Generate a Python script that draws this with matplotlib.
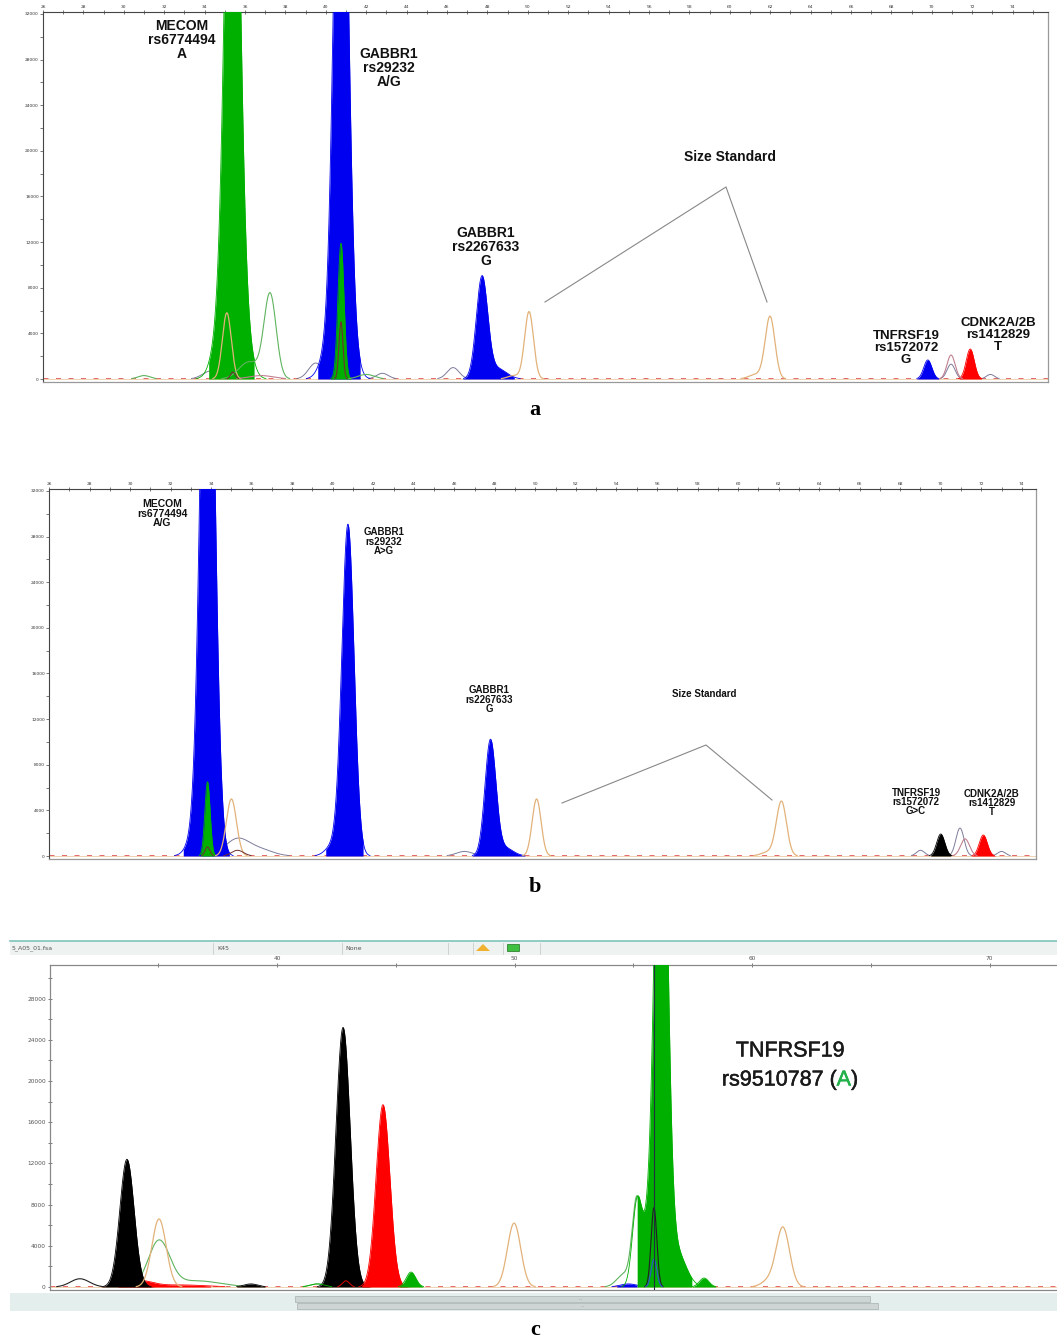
import numpy as np
import matplotlib
matplotlib.use("Agg")
import matplotlib.pyplot as plt
import matplotlib.patheffects as pe
from matplotlib.patches import Rectangle, Polygon
from matplotlib.lines import Line2D

# ---------------- data (size in bp, height in RFU, sigma in bp) ----------------
# Panel a
a_xticks = list(range(26, 76, 2))
a_yticks = [0, 4000, 8000, 12000, 16000, 20000, 24000, 28000, 32000]
a_green_fill = [(35.38, 62000, 0.34), (34.8, 4000, 0.40), (36.0, 3000, 0.35)]
a_blue_fill1 = [(40.75, 62000, 0.33), (40.0, 1800, 0.35), (41.4, 1200, 0.3)]
a_green_fill2 = [(40.75, 11900, 0.15)]
a_blue_fill2 = [(47.73, 8860, 0.28), (48.5, 900, 0.45)]
a_blue_fill3 = [(69.80, 1670, 0.20)]
a_red_fill = [(71.90, 2630, 0.20)]
a_orange_line = [(35.1, 5800, 0.22), (50.06, 5900, 0.22), (61.99, 5450, 0.24), (61.3, 400, 0.35), (49.3, 300, 0.3)]
a_green_line = [(37.24, 7400, 0.30), (36.2, 1500, 0.50), (31.0, 300, 0.3), (42.0, 400, 0.4)]
a_grey_line = [(34.3, 700, 0.40), (39.5, 1400, 0.35), (42.8, 500, 0.3), (46.3, 1000, 0.3), (70.95, 1300, 0.2), (72.9, 400, 0.2)]
a_pink_line = [(70.95, 2100, 0.20), (36.8, 300, 0.6)]
a_dark_line = [(40.75, 5000, 0.10), (35.4, 600, 0.12)]

# Panel b
b_blue_fill1 = [(33.82, 62000, 0.33), (33.1, 1200, 0.35)]
b_green_fill = [(33.82, 6500, 0.13)]
b_blue_fill2 = [(40.75, 29000, 0.30), (40.0, 900, 0.35)]
b_blue_fill3 = [(47.78, 10100, 0.27), (48.5, 700, 0.4)]
b_black_fill = [(70.00, 1930, 0.20)]
b_red_fill = [(72.10, 1840, 0.20)]
b_orange_line = [(35.0, 5000, 0.25), (50.06, 5000, 0.22), (62.14, 4750, 0.25), (61.5, 350, 0.35)]
b_grey_line = [(35.3, 1500, 0.6), (36.5, 500, 0.6), (46.5, 400, 0.4), (69.0, 500, 0.2), (70.95, 2450, 0.20), (73.0, 400, 0.2)]
b_pink_line = [(71.2, 1500, 0.22)]
b_dark_line = [(33.82, 800, 0.12), (35.3, 500, 0.3)]

# Panel c
c_xticks = [40, 50, 60, 70]
c_yticks = [0, 4000, 8000, 12000, 16000, 20000, 24000, 28000]
c_black_fill1 = [(33.68, 12400, 0.30)]
c_red_fill1 = [(34.2, 600, 0.55), (36.0, 200, 1.0)]
c_black_fill0 = [(38.9, 300, 0.3)]
c_black_fill2 = [(42.78, 25200, 0.30)]
c_red_fill2 = [(44.46, 17700, 0.29), (42.9, 600, 0.15)]
c_green_fill1 = [(45.64, 1450, 0.20), (41.7, 300, 0.3)]
c_green_fill2 = [(56.17, 60000, 0.25), (55.16, 8000, 0.20), (55.65, 5000, 0.25), (56.8, 3500, 0.40)]
c_green_fill3 = [(57.98, 870, 0.20)]
c_blue_fill = [(54.8, 300, 0.35)]
c_orange_line = [(35.03, 6600, 0.30), (49.98, 6200, 0.28), (61.30, 5750, 0.28), (60.7, 600, 0.3)]
c_green_line = [(35.03, 4400, 0.45), (36.6, 600, 1.0), (55.16, 8640, 0.20), (54.6, 1200, 0.3), (41.7, 300, 0.3)]
c_dark_line = [(31.7, 800, 0.40), (55.87, 7700, 0.12)]
c_blue_line = [(55.87, 2700, 0.12)]
c_marker_pos = 55.87

# ---------------- helpers ----------------
W, H = 1057, 1344
fig = plt.figure(figsize=(W / 100, H / 100), dpi=100)
fig.patch.set_facecolor("white")

GREEN = "#00b000"
BLUE = "#0000f0"
RED = "#ff0000"
BLACK = "#000000"
ORANGE = "#e2b27a"
LGREEN = "#5fb35f"
GREY = "#7c7c9c"
PINK = "#c08090"
DARK = "#703030"


def ax_at(left, top, right, bottom):
    return fig.add_axes([left / W, 1 - bottom / H, (right - left) / W, (bottom - top) / H])


def fx(x):
    return x / W


def fy(y):
    return 1 - y / H


def trace(x, peaks):
    y = np.zeros_like(x)
    for m, h, s in peaks:
        y += h * np.exp(-0.5 * ((x - m) / s) ** 2)
    return y


def masked(y):
    y = y.copy()
    y[y < 40] = np.nan
    return y


def filled(ax, x, peaks, color, halfwin):
    y = trace(x, peaks)
    mu = peaks[0][0]
    lo, hi = mu - halfwin[0], mu + halfwin[1]
    m = (x >= lo) & (x <= hi)
    ax.fill_between(x[m], 0, y[m], color=color, lw=0, zorder=3)
    ax.plot(x, masked(y), color=color, lw=0.6, zorder=3)


def line(ax, x, peaks, color, lw=0.8, z=4):
    ax.plot(x, masked(trace(x, peaks)), color=color, lw=lw, zorder=z)


def baseline(ax, x0, x1):
    ax.plot([x0, x1], [60, 60], color="#e05050", lw=0.6, dashes=(6, 9), zorder=2)
    ax.plot([x0, x1], [20, 20], color="#efd2b0", lw=0.7, zorder=2)


def rect(x0, y0, x1, y1, **kw):
    r = Rectangle((fx(x0), fy(y1)), (x1 - x0) / W, (y1 - y0) / H, transform=fig.transFigure, **kw)
    fig.patches.append(r)


def fline(pts, **kw):
    xs = [fx(p[0]) for p in pts]
    ys = [fy(p[1]) for p in pts]
    fig.lines.append(Line2D(xs, ys, transform=fig.transFigure, **kw))


def style_ab(ax, xmax, ylo, yhi):
    ax.set_xlim(26, xmax)
    ax.set_ylim(ylo, yhi)
    ax.xaxis.tick_top()
    ax.set_xticks(a_xticks)
    ax.set_xticks(np.arange(27, xmax, 2), minor=True)
    ax.set_xticklabels([str(v) for v in a_xticks], fontsize=3.2, color="#333333")
    ax.set_yticks(a_yticks)
    ax.set_yticks(np.arange(2000, 32000, 4000), minor=True)
    ax.set_yticklabels([str(v) for v in a_yticks], fontsize=3.2, color="#333333")
    ax.tick_params(axis="both", which="both", length=2, width=0.5, pad=1, color="#444444")
    ax.tick_params(axis="x", which="both", direction="inout", length=3)
    for s in ["top", "left"]:
        ax.spines[s].set_color("#444444")
        ax.spines[s].set_linewidth(0.8)
    for s in ["right", "bottom"]:
        ax.spines[s].set_color("#999999")
        ax.spines[s].set_linewidth(0.9)


BOLD = dict(family="Liberation Sans", weight="bold", color="#111111", ha="center", va="top")

# ---------------- panel a ----------------
axa = ax_at(43, 12, 1048, 382)
xa = np.linspace(26, 75.75, 6000)
baseline(axa, 26, 75.75)
line(axa, xa, a_grey_line, GREY, 0.7, 2.5)
filled(axa, xa, a_green_fill, GREEN, (1.18, 1.07))
filled(axa, xa, a_blue_fill1, BLUE, (1.15, 0.95))
filled(axa, xa, a_green_fill2, GREEN, (0.5, 0.5))
filled(axa, xa, a_blue_fill2, BLUE, (0.95, 1.6))
filled(axa, xa, a_blue_fill3, BLUE, (0.55, 0.55))
filled(axa, xa, a_red_fill, RED, (0.55, 0.55))
line(axa, xa, a_orange_line, ORANGE, 0.9)
line(axa, xa, a_green_line, LGREEN, 0.8)
line(axa, xa, a_pink_line, PINK, 0.8)
line(axa, xa, a_dark_line, DARK, 0.8)
style_ab(axa, 75.75, -263, 32175)

fig.text(fx(182), fy(19), "MECOM\nrs6774494\nA", fontsize=10, linespacing=1.0, **BOLD)
fig.text(fx(389), fy(47), "GABBR1\nrs29232\nA/G", fontsize=10, linespacing=1.0, **BOLD)
fig.text(fx(486), fy(226), "GABBR1\nrs2267633\nG", fontsize=10, linespacing=1.0, **BOLD)
fig.text(fx(730), fy(150), "Size Standard", fontsize=10, **BOLD)
fig.text(fx(906), fy(330), "TNFRSF19\nrs1572072\nG", fontsize=9.5, linespacing=1.0, **BOLD)
fig.text(fx(998), fy(317), "CDNK2A/2B\nrs1412829\nT", fontsize=9.5, linespacing=1.0, **BOLD)
fline([(545, 302), (726, 187), (767, 302)], color="#888888", lw=0.8)
fig.text(fx(535), fy(410), "a", fontsize=16, family="Liberation Serif", weight="bold", ha="center", va="center")

# ---------------- panel b ----------------
axb = ax_at(49, 489, 1036, 859)
xb = np.linspace(26, 74.7, 6000)
baseline(axb, 26, 74.7)
line(axb, xb, b_grey_line, GREY, 0.7, 2.5)
filled(axb, xb, b_blue_fill1, BLUE, (1.2, 1.08))
filled(axb, xb, b_green_fill, GREEN, (0.35, 0.35))
filled(axb, xb, b_blue_fill2, BLUE, (1.1, 0.75))
filled(axb, xb, b_blue_fill3, BLUE, (0.9, 1.7))
filled(axb, xb, b_black_fill, BLACK, (0.5, 0.5))
filled(axb, xb, b_red_fill, RED, (0.6, 0.6))
line(axb, xb, b_orange_line, ORANGE, 0.9)
line(axb, xb, b_pink_line, PINK, 0.8)
line(axb, xb, b_dark_line, DARK, 0.7)
style_ab(axb, 74.7, -263, 32175)

fig.text(fx(162), fy(499), "MECOM\nrs6774494\nA/G", fontsize=7.5, linespacing=0.95, **BOLD)
fig.text(fx(384), fy(527), "GABBR1\nrs29232\nA>G", fontsize=7, linespacing=0.95, **BOLD)
fig.text(fx(489), fy(685), "GABBR1\nrs2267633\nG", fontsize=7, linespacing=0.95, **BOLD)
fig.text(fx(704), fy(689), "Size Standard", fontsize=7, **BOLD)
fig.text(fx(916), fy(788), "TNFRSF19\nrs1572072\nG>C", fontsize=7, linespacing=0.9, **BOLD)
fig.text(fx(992), fy(789), "CDNK2A/2B\nrs1412829\nT", fontsize=7, linespacing=0.9, **BOLD)
fline([(562, 803), (706, 745), (772, 800)], color="#888888", lw=0.8)
fig.text(fx(535), fy(887), "b", fontsize=16, family="Liberation Serif", weight="bold", ha="center", va="center")

# ---------------- panel c ----------------
# header bar
rect(10, 941, 1057, 955, facecolor="#eef3f1", edgecolor="none")
fline([(10, 941), (1057, 941)], color="#7fc4ba", lw=1.2)
for sx in [213, 342, 448, 473, 503, 540]:
    fline([(sx, 943), (sx, 954)], color="#c8cccc", lw=0.6)
hdr = dict(fontsize=4.5, color="#555555", va="center", ha="left", family="DejaVu Sans")
fig.text(fx(12), fy(948), "5_A05_01.fsa", **hdr)
fig.text(fx(217), fy(948), "K45", **hdr)
fig.text(fx(345), fy(948), "None", **hdr)
fig.patches.append(Polygon([(fx(476), fy(951)), (fx(483), fy(944)), (fx(490), fy(951))],
                           closed=True, transform=fig.transFigure, facecolor="#f0b030", edgecolor="none"))
rect(507, 944, 519, 951, facecolor="#40c040", edgecolor="#207020", lw=0.5)

axc = ax_at(50, 965, 1057, 1290)
xc = np.linspace(30.44, 72.84, 7000)
baseline(axc, 30.44, 72.84)
filled(axc, xc, c_red_fill1, RED, (0.9, 3.0))
filled(axc, xc, c_black_fill1, BLACK, (1.1, 1.3))
filled(axc, xc, c_black_fill0, BLACK, (0.6, 0.6))
filled(axc, xc, c_black_fill2, BLACK, (1.2, 1.2))
filled(axc, xc, c_red_fill2, RED, (0.9, 1.3))
filled(axc, xc, c_green_fill1, GREEN, (0.5, 0.5))
filled(axc, xc, c_blue_fill, BLUE, (0.5, 0.36))
line(axc, xc, c_green_line, LGREEN, 0.8, 2.8)
filled(axc, xc, c_green_fill2, GREEN, (1.01, 1.3))
filled(axc, xc, c_green_fill3, GREEN, (0.5, 0.5))
line(axc, xc, c_orange_line, ORANGE, 0.9)
line(axc, xc, c_dark_line, "#202020", 0.8)
line(axc, xc, c_blue_line, "#3050d0", 0.8)
axc.axvline(c_marker_pos, color="#203040", lw=0.8, zorder=5)
axc.set_xlim(30.44, 72.84)
axc.set_ylim(-291, 31262)
axc.xaxis.tick_top()
axc.set_xticks(c_xticks)
axc.set_xticks([35, 45, 55, 65], minor=True)
axc.set_xticklabels([str(v) for v in c_xticks], fontsize=4.2, color="#555555")
axc.set_yticks(c_yticks)
axc.set_yticks(np.arange(2000, 31000, 4000), minor=True)
axc.set_yticklabels([str(v) for v in c_yticks], fontsize=4.2, color="#555555")
axc.tick_params(axis="both", which="both", direction="inout", length=3, width=0.6, pad=1.5, color="#666666")
axc.spines["right"].set_visible(False)
for s in ["top", "left", "bottom"]:
    axc.spines[s].set_color("#888888")
    axc.spines[s].set_linewidth(0.9)

# scrollbar
rect(10, 1293, 1057, 1311, facecolor="#e4eeec", edgecolor="none")
rect(295, 1296, 870, 1302, facecolor="#cdd5d5", edgecolor="#a8b0b0", lw=0.5)
rect(297, 1303, 878, 1309, facecolor="#cdd5d5", edgecolor="#a8b0b0", lw=0.5)
fig.text(fx(580), fy(1299), "...", fontsize=3, color="#555555", ha="center", va="center")
fig.text(fx(582), fy(1306), "...", fontsize=3, color="#555555", ha="center", va="center")

# big label with coloured allele
fig.text(fx(790), fy(1051), "TNFRSF19", fontsize=15.5, family="Liberation Sans", color="#1a1a1a",
         ha="center", va="center", path_effects=[pe.withStroke(linewidth=0.35, foreground="#1a1a1a")])
renderer = fig.canvas.get_renderer()
parts = [("rs9510787 (", "#1a1a1a"), ("A", "#22b04a"), (")", "#1a1a1a")]
objs = []
for s, col in parts:
    objs.append(fig.text(0, fy(1080), s, fontsize=15.5, family="Liberation Sans", color=col,
                         ha="left", va="center",
                         path_effects=[pe.withStroke(linewidth=0.35, foreground=col)]))
widths = [o.get_window_extent(renderer).width for o in objs]
start = 790 - sum(widths) / 2
for o, w in zip(objs, widths):
    o.set_x(fx(start))
    start += w

fig.text(fx(535), fy(1330), "c", fontsize=16, family="Liberation Serif", weight="bold", ha="center", va="center")

fig.savefig("out.png", dpi=100, facecolor="white")
